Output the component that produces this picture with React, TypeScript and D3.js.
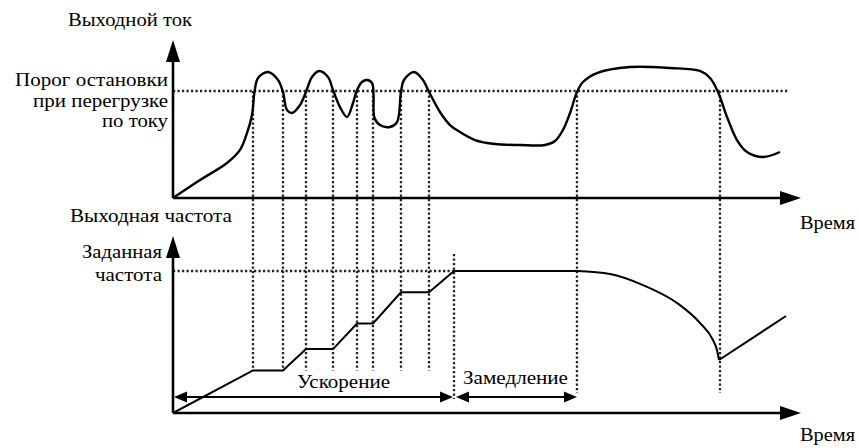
import React from "react";
import * as d3 from "d3";

// ---- data (time in % of the time axis, current/frequency in % of threshold/target) ----
const currentTime = [0, 4.31, 8.61, 10.69, 11.8, 12.6, 13.0, 13.56, 15.15, 16.75, 17.54, 18.18, 18.98, 20.26, 21.21, 22.17, 23.29, 24.72, 25.52, 26.63, 27.75, 28.71, 29.35, 30.14, 30.94, 31.74, 31.98, 32.14, 33.01, 34.61, 35.73, 36.36, 36.84, 38.44, 39.87, 40.83, 42.58, 44.18, 45.77, 48.17, 51.36, 55.34, 59.33, 60.93, 62.2, 63.32, 64.43, 65.39, 67.62, 72.89, 79.27, 84.05, 85.65, 86.92, 88.36, 89.95, 91.55, 94.1, 96.81];
const currentValue = [0, 16.8, 32.7, 44.9, 60.7, 77.6, 99, 112.1, 117.8, 110.3, 99.1, 82.2, 79.4, 86.9, 99.1, 113.1, 118.7, 113.1, 100.9, 85.0, 75.7, 88.8, 100.9, 108.4, 110.3, 107.5, 96.3, 74.8, 68.2, 66.4, 71.0, 99.1, 110.3, 117.8, 110.3, 99.1, 80.4, 68.2, 61.7, 54.2, 50.5, 49.5, 49.5, 53.3, 63.6, 79.4, 99.1, 108.4, 116.8, 122.4, 121.5, 118.7, 112.1, 99.1, 75.7, 54.2, 43.0, 38.3, 43.0];

const accelTime = [0, 12.76, 17.54, 21.21, 25.52, 29.35, 31.9, 36.36, 40.83, 44.82, 64.43];
const accelFreq = [0, 30, 30, 45, 45, 63, 63, 85, 85, 100, 100];
const decelTime = [64.43, 69.7, 74.96, 80.38, 84.05, 86.12, 86.76, 87.08];
const decelFreq = [100, 97.9, 90.1, 77.5, 63.4, 51.4, 44.4, 37.3];
const recoverTime = [87.08, 97.77];
const recoverFreq = [37.3, 68.3];

const crossingTimes = [12.76, 17.54, 21.21, 25.52, 29.35, 31.9, 36.36, 40.83];
const stallTimes = [64.43, 87.24];
const accelEnd = 44.82;
const phaseArrowLevel = 11.3;

const FONT = "Liberation Serif, Times New Roman, serif";

type Label = { text: string; x: number; y: number; w: number };
const labels: Label[] = [
  { text: "Выходной ток", x: 68, y: 26, w: 124 },
  { text: "Порог остановки", x: 15, y: 86, w: 153 },
  { text: "при перегрузке", x: 33, y: 107, w: 135 },
  { text: "по току", x: 102, y: 127, w: 66 },
  { text: "Выходная частота", x: 70, y: 222, w: 162 },
  { text: "Время", x: 800, y: 229, w: 55 },
  { text: "Заданная", x: 82, y: 258, w: 80 },
  { text: "частота", x: 95, y: 281, w: 67 },
  { text: "Ускорение", x: 297, y: 388, w: 93 },
  { text: "Замедление", x: 463, y: 384, w: 105 },
  { text: "Время", x: 800, y: 441, w: 55 },
];

export default function App() {
  const W = 859, H = 448;
  const x = d3.scaleLinear().domain([0, 100]).range([173, 800]);
  const yI = d3.scaleLinear().domain([0, 100]).range([198, 91]);
  const yF = d3.scaleLinear().domain([0, 100]).range([413, 271]);

  const curLine = d3.line<number>()
    .x((_, i) => x(currentTime[i]))
    .y((d) => yI(d))
    .curve(d3.curveCatmullRom.alpha(0.5));
  const linLine = (ts: number[], fs: number[]) =>
    d3.line<number>().x((_, i) => x(ts[i])).y((d) => yF(d))(fs) || "";
  const decelPath = d3.line<number>()
    .x((_, i) => x(decelTime[i]))
    .y((d) => yF(d))
    .curve(d3.curveMonotoneX)(decelFreq) || "";

  const dot = { stroke: "#222", strokeWidth: 2.3, strokeDasharray: "2.2 2.3", fill: "none" } as const;
  const axis = { stroke: "#000", strokeWidth: 2.6 } as const;

  const upArrow = (cx: number, tip: number) =>
    `M${cx},${tip} L${cx - 7},${tip + 22} L${cx + 7},${tip + 22} Z`;
  const rightArrow = (tip: number, cy: number) =>
    `M${tip},${cy} L${tip - 21},${cy - 7} L${tip - 21},${cy + 7} Z`;
  const smallR = (tip: number, cy: number) =>
    `M${tip},${cy} L${tip - 13},${cy - 5.5} L${tip - 13},${cy + 5.5} Z`;
  const smallL = (tip: number, cy: number) =>
    `M${tip},${cy} L${tip + 13},${cy - 5.5} L${tip + 13},${cy + 5.5} Z`;

  const x0 = x(0);
  const topBase = yI(0);
  const botBase = yF(0);
  const arrowY = yF(phaseArrowLevel);

  return (
    <svg width={W} height={H} style={{ position: "absolute", left: 0, top: 0, background: "#fff" }}>
      {/* dotted guides */}
      <line x1={x0} x2={788} y1={yI(100)} y2={yI(100)} {...dot} />
      <line x1={x0} x2={x(accelEnd)} y1={yF(100)} y2={yF(100)} {...dot} />
      {crossingTimes.map((t, i) => (
        <line key={i} x1={x(t)} x2={x(t)} y1={yI(100)} y2={yF(30)} {...dot} />
      ))}
      {stallTimes.map((t, i) => (
        <line key={"s" + i} x1={x(t)} x2={x(t)} y1={yI(100)} y2={arrowY - 4} {...dot} />
      ))}
      <line x1={x(accelEnd)} x2={x(accelEnd)} y1={yF(112)} y2={arrowY + 2} {...dot} />

      {/* axes */}
      <line x1={x0} x2={x0} y1={topBase} y2={58} {...axis} />
      <path d={upArrow(x0, 40)} fill="#000" />
      <line x1={x0} x2={785} y1={topBase} y2={topBase} {...axis} />
      <path d={rightArrow(801, topBase)} fill="#000" />
      <line x1={x0} x2={x0} y1={botBase} y2={254} {...axis} />
      <path d={upArrow(x0, 236)} fill="#000" />
      <line x1={x0} x2={785} y1={botBase} y2={botBase} {...axis} />
      <path d={rightArrow(801, botBase)} fill="#000" />

      {/* phase arrows */}
      <line x1={x0 + 4} x2={x(accelEnd) - 4} y1={arrowY} y2={arrowY} stroke="#000" strokeWidth={2} />
      <path d={smallL(x0 + 1, arrowY)} fill="#000" />
      <path d={smallR(x(accelEnd) - 1, arrowY)} fill="#000" />
      <line x1={x(accelEnd) + 4} x2={x(stallTimes[0]) - 4} y1={arrowY} y2={arrowY} stroke="#000" strokeWidth={2} />
      <path d={smallL(x(accelEnd) + 2, arrowY)} fill="#000" />
      <path d={smallR(x(stallTimes[0]), arrowY)} fill="#000" />

      {/* curves */}
      <path d={curLine(currentValue) || ""} fill="none" stroke="#000" strokeWidth={2.4} />
      <path d={linLine(accelTime, accelFreq)} fill="none" stroke="#000" strokeWidth={2} />
      <path d={decelPath} fill="none" stroke="#000" strokeWidth={2} />
      <path d={linLine(recoverTime, recoverFreq)} fill="none" stroke="#000" strokeWidth={2} />

      {/* text */}
      <g style={{ fontFamily: FONT }} fontSize={18} fill="#000">
        {labels.map((l, i) => (
          <text key={i} x={l.x} y={l.y} textLength={l.w} lengthAdjust="spacingAndGlyphs">{l.text}</text>
        ))}
      </g>
    </svg>
  );
}
